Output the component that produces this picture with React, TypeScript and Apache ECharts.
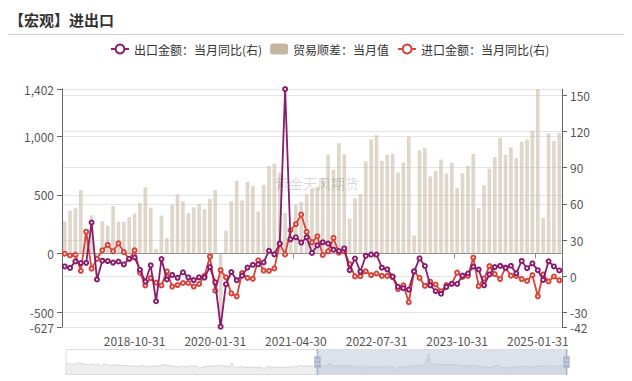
import React, { useEffect, useRef } from 'react';
import * as echarts from 'echarts';

// ---------- categories: month-end dates 2010-01-31 .. 2025-05-31 ----------
function monthEnds(startYear: number, startMonth: number, count: number): string[] {
  const out: string[] = [];
  for (let k = 0; k < count; k++) {
    const y = startYear + Math.floor((startMonth - 1 + k) / 12);
    const m = ((startMonth - 1 + k) % 12) + 1;
    const d = new Date(Date.UTC(y, m, 0)).getUTCDate();
    out.push(`${y}-${String(m).padStart(2, '0')}-${String(d).padStart(2, '0')}`);
  }
  return out;
}
const categories: string[] = monthEnds(2010, 1, 185);

// ---------- 出口金额：当月同比 (%), 2010-01 .. 2017-08 (only seen in the zoom-slider shadow) ----------
const exportEarly: number[] = [
  21.0, 45.7, 24.3, 30.5, 48.5, 43.9, 38.1, 34.4, 25.1, 22.9, 34.9, 17.9,
  37.7, 2.4, 35.8, 29.9, 19.4, 17.9, 20.4, 24.5, 17.1, 15.9, 13.8, 13.4,
  -0.5, 18.4, 8.9, 4.9, 15.3, 11.3, 1.0, 2.7, 9.9, 11.6, 2.9, 14.1,
  25.0, 21.8, 10.0, 14.7, 1.0, -3.1, 5.1, 7.2, -0.3, 5.6, 12.7, 4.3,
  10.6, -18.1, -6.6, 0.9, 7.0, 7.2, 14.5, 9.4, 15.3, 11.6, 4.7, 9.7,
  -3.3, 48.3, -15.0, -6.4, -2.5, 2.8, -8.3, -5.5, -3.7, -6.9, -6.8, -1.4,
  -11.2, -25.4, 11.5, -1.8, -4.1, -4.8, -4.4, -2.8, -10.0, -7.3, 0.1, -6.1,
  7.9, -1.3, 16.4, 8.0, 8.7, 11.3, 7.2, 5.5,
];

// ---------- visible window 2017-09 .. 2025-05 ----------
const exportYoY: number[] = [
  8.1, 6.9, 12.3, 10.9,
  11.1, 44.5, -2.7, 12.9, 12.6, 11.3, 12.2, 9.8, 14.5, 15.6, 5.4, -4.4,
  9.1, -20.7, 14.2, -2.7, 1.1, -1.3, 3.3, -1.0, -3.2, -0.9, -1.1, 7.6,
  -5.0, -41.7, -6.6, 3.5, -3.3, 0.5, 7.2, 9.5, 9.9, 11.4, 21.1, 18.1,
  27.0, 154.9, 30.6, 32.3, 27.9, 32.2, 19.3, 25.6, 28.1, 27.1, 22.0, 20.9,
  23.0, 5.0, 14.7, 3.9, 16.9, 17.9, 18.0, 7.1, 5.7, -0.3, -8.7, -9.9,
  -11.0, 4.0, 14.8, 8.5, -7.5, -12.4, -14.5, -8.8, -6.2, -6.4, 0.5, 2.3,
  8.0, 5.6, -7.5, 1.5, 7.6, 8.6, 7.0, 8.7, 2.4, 12.7, 6.7, 10.7,
  5.0, -3.0, 12.4, 8.1, 4.8,
];

const importYoY: number[] = [
  18.7, 17.2, 17.7, 4.5,
  36.9, 6.3, 14.4, 21.5, 26.0, 20.6, 27.3, 20.0, 14.3, 21.4, 3.0, -7.6,
  -1.5, -5.2, -7.6, 4.0, -8.5, -7.3, -5.6, -5.6, -8.5, -6.4, 0.3, 16.3,
  -12.0, 5.0, -0.9, -14.2, -16.7, 2.7, -1.4, -2.1, 13.2, 4.7, 4.5, 6.5,
  27.0, 18.0, 38.1, 43.1, 51.1, 36.7, 28.1, 33.1, 17.6, 20.6, 31.7, 19.5,
  20.5, 10.0, -0.1, 0.0, 4.1, 1.0, 2.3, 0.3, 0.3, -0.7, -10.6, -7.5,
  -21.5, 4.2, -1.4, -7.9, -4.5, -6.8, -12.4, -7.3, -6.2, 3.0, -0.6, 0.2,
  15.5, -8.2, -1.9, 8.4, 1.8, -2.3, 7.2, 0.5, 0.3, -2.3, -3.9, 1.0,
  -16.6, 1.5, -4.3, -0.2, -3.4,
];

// 贸易顺差：当月值 (亿美元)
const tradeBalance: number[] = [
  275, 365, 385, 540,
  203, 325, -50, 275, 238, 405, 270, 270, 310, 340, 430, 565,
  390, 38, 322, 133, 414, 505, 443, 344, 392, 422, 378, 466,
  539, -627, 194, 446, 620, 452, 610, 575, 358, 585, 745, 766,
  690, 345, 138, 415, 440, 505, 552, 568, 640, 840, 712, 940,
  847, 297, 470, 506, 784, 972, 1008, 790, 842, 850, 690, 776,
  995, 155, 878, 898, 657, 703, 800, 680, 773, 560, 685, 748,
  847, 388, 582, 723, 822, 985, 842, 906, 813, 953, 970, 1045,
  1402, 305, 1025, 960, 1028,
];

const HIDDEN_MONTHS = exportEarly.length; // 92 months before the visible window
const pad: (number | null)[] = Array.from({ length: HIDDEN_MONTHS }, () => null);

const exportSeries = [...exportEarly, ...exportYoY];
const importSeries = [...pad, ...importYoY];
const balanceSeries = [...pad, ...tradeBalance];

const EXPORT_NAME = '出口金额：当月同比(右)';
const BALANCE_NAME = '贸易顺差：当月值';
const IMPORT_NAME = '进口金额：当月同比(右)';

const FONT = "'Noto Sans CJK SC', 'Noto Sans', sans-serif";

export default function App() {
  const ref = useRef<HTMLDivElement>(null);

  useEffect(() => {
    if (!ref.current) return;
    const chart = echarts.init(ref.current, undefined, { renderer: 'svg' });
    const option: any = {
      animation: false,
      backgroundColor: '#fff',
      textStyle: { fontFamily: FONT },
      title: {
        text: '【宏观】进出口',
        left: 4,
        top: 7,
        textStyle: { fontSize: 15, fontWeight: 'bold', color: '#333', fontFamily: FONT },
      },
      graphic: [
        {
          type: 'line',
          shape: { x1: 8, y1: 34.5, x2: 624, y2: 34.5 },
          style: { stroke: '#cfcfcf', lineWidth: 1 },
          silent: true,
        },
        {
          type: 'text',
          left: 275,
          top: 176,
          z: 100,
          style: {
            text: '紫金天风期货',
            fill: 'rgba(0,0,0,0.16)',
            font: `14px ${FONT}`,
          },
          silent: true,
        },
      ],
      legend: {
        top: 38,
        left: 105,
        itemWidth: 18,
        itemHeight: 11,
        itemGap: 8,
        textStyle: { fontSize: 12, color: '#333' },
        data: [
          { name: EXPORT_NAME },
          { name: BALANCE_NAME, itemStyle: { color: '#c5b6a1', opacity: 1 } },
          { name: IMPORT_NAME },
        ],
      },
      grid: { left: 62, right: 70, top: 89, bottom: 54, containLabel: false },
      xAxis: [
        {
          type: 'category',
          data: categories,
          position: 'bottom',
          boundaryGap: true,
          axisLine: { show: false, onZero: false },
          axisTick: { show: false },
          axisLabel: { interval: 14, color: '#555', fontSize: 12, margin: 7 },
          splitLine: { show: false },
        },
        {
          type: 'category',
          data: categories,
          position: 'bottom',
          boundaryGap: true,
          axisLine: { show: true, onZero: true, onZeroAxisIndex: 0, lineStyle: { color: '#8c8c8c' } },
          axisTick: { show: true, interval: 14, lineStyle: { color: '#8c8c8c' } },
          axisLabel: { show: false },
          splitLine: { show: false },
        },
      ],
      yAxis: [
        {
          type: 'value',
          position: 'left',
          min: (v: any) => Math.floor(v.min),
          max: (v: any) => Math.ceil(v.max),
          axisLine: { show: true, lineStyle: { color: '#666' } },
          axisTick: { show: true, lineStyle: { color: '#666' } },
          axisLabel: { color: '#555', fontSize: 12 },
          splitLine: { show: true, lineStyle: { color: '#e4e4e4' } },
        },
        {
          type: 'value',
          position: 'right',
          min: (v: any) => Math.floor(v.min),
          max: (v: any) => Math.ceil(v.max),
          axisLine: { show: true, lineStyle: { color: '#666' } },
          axisTick: { show: true, lineStyle: { color: '#666' } },
          axisLabel: { color: '#555', fontSize: 12 },
          splitLine: { show: true, lineStyle: { color: '#e4e4e4' } },
        },
      ],
      dataZoom: [
        {
          type: 'slider',
          xAxisIndex: [0, 1],
          start: 50,
          end: 100,
          left: 63,
          right: 67,
          top: 349,
          height: 26,
          showDetail: false,
          brushSelect: false,
          moveHandleSize: 0,
          backgroundColor: 'rgba(47,69,84,0)',
          borderColor: '#ddd',
          fillerColor: 'rgba(167,183,204,0.4)',
          handleIcon:
            'path://M8.2,13.6V3.9H6.3v9.7H3.1v14.9h3.3v9.7h1.8v-9.7h3.3V13.6H8.2z M9.7,24.4H4.8v-1.4h4.9V24.4z M9.7,19.1H4.8v-1.4h4.9V19.1z',
          handleSize: '100%',
          handleStyle: { color: '#a7b7cc', borderColor: '#a7b7cc', borderWidth: 0 },
          dataBackground: {
            lineStyle: { color: '#2f4554', width: 0.5, opacity: 0.3 },
            areaStyle: { color: 'rgba(47,69,84,0.3)', opacity: 0.3 },
          },
          selectedDataBackground: {
            lineStyle: { color: '#2f4554', width: 0.5, opacity: 0.3 },
            areaStyle: { color: 'rgba(47,69,84,0.3)', opacity: 0.3 },
          },
        },
      ],
      series: [
        {
          name: EXPORT_NAME,
          type: 'line',
          xAxisIndex: 0,
          yAxisIndex: 1,
          data: exportSeries,
          z: 4,
          symbol: 'emptyCircle',
          symbolSize: 4,
          showAllSymbol: true,
          color: '#8a1c6c',
          lineStyle: { width: 1.8, color: '#8a1c6c' },
          itemStyle: { color: '#8a1c6c', borderWidth: 1 },
        },
        {
          name: BALANCE_NAME,
          type: 'bar',
          xAxisIndex: 1,
          yAxisIndex: 0,
          data: balanceSeries,
          z: 2,
          itemStyle: { color: '#c5b6a1', opacity: 0.55 },
        },
        {
          name: IMPORT_NAME,
          type: 'line',
          xAxisIndex: 0,
          yAxisIndex: 1,
          data: importSeries,
          z: 3,
          symbol: 'emptyCircle',
          symbolSize: 4,
          showAllSymbol: true,
          color: '#d8443a',
          lineStyle: { width: 1.8, color: '#d8443a' },
          itemStyle: { color: '#d8443a', borderWidth: 1 },
        },
      ],
    };
    chart.setOption(option);
    return () => chart.dispose();
  }, []);

  return (
    <div
      ref={ref}
      style={{ position: 'fixed', left: 0, top: 0, width: 632, height: 381 }}
    />
  );
}
